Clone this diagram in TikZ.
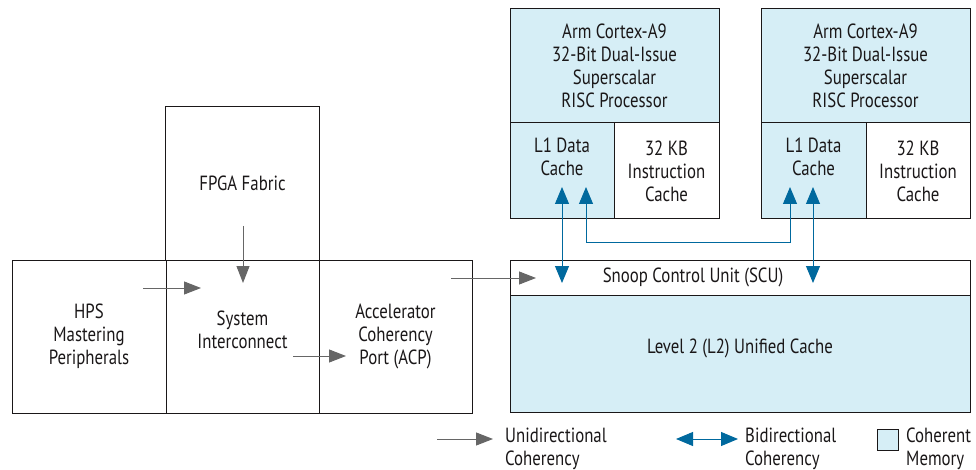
\documentclass[tikz,border=0pt]{standalone}
\usepackage{fontspec}
\setmainfont{PT Sans}[FakeStretch=0.82]
\usetikzlibrary{arrows.meta}
\definecolor{cohblue}{HTML}{D6EEF6}
\definecolor{arrblue}{HTML}{00699E}
\definecolor{arrgray}{HTML}{666666}
\definecolor{txt}{HTML}{1A1718}
\begin{document}
\begin{tikzpicture}[x=1pt,y=-1pt,
  box/.style={draw=txt, line width=1pt, inner sep=0pt, outer sep=0pt, align=center, text=txt, font=\fontsize{20.5}{23}\selectfont},
  lbl/.style={align=center, inner sep=0pt, text=txt, font=\fontsize{20.5}{23}\selectfont},
  uni/.style={draw=arrgray, line width=1pt, -{Triangle[length=17pt,width=13pt]}},
  bi/.style={draw=arrblue, line width=1pt, {Triangle[length=17pt,width=14pt]}-{Triangle[length=17pt,width=14pt]}}
]
\useasboundingbox (0,0) rectangle (976,470);
% left blocks
\node[box, minimum width=154pt, minimum height=153pt] (fpga) at (242.5,183.5) {FPGA Fabric};
\node[box, minimum width=154pt, minimum height=153pt] (hps) at (89,336.5) {HPS\\Mastering\\Peripherals};
\node[box, minimum width=153pt, minimum height=153pt] (si) at (242.5,336.5) {};
\node[lbl] (sitext) at (242.5,330) {System\\Interconnect};
\node[box, minimum width=153pt, minimum height=153pt] (acp) at (395.5,336.5) {Accelerator\\Coherency\\Port (ACP)};
% SCU and L2
\node[box, fill=white, minimum width=460pt, minimum height=35pt] (scu) at (740,277.5) {};
\node[lbl] (scutext) at (693,277) {Snoop Control Unit (SCU)};
\node[box, fill=cohblue, minimum width=460pt, minimum height=117pt] (l2) at (740,353.5) {};
\node[lbl] (l2text) at (740,348) {Level 2 (L2) Unified Cache};
% CPU 1
\node[box, fill=cohblue, minimum width=209pt, minimum height=114pt] (cpua) at (614.5,66) {Arm Cortex-A9\\32-Bit Dual-Issue\\Superscalar\\RISC Processor};
\node[box, fill=cohblue, minimum width=104pt, minimum height=96pt] (l1a) at (562,171) {};
\node[lbl] (l1atext) at (562,157) {L1 Data\\Cache};
\node[box, fill=white, minimum width=105pt, minimum height=96pt] (ica) at (666.5,171) {32 KB\\Instruction\\Cache};
% CPU 2
\node[box, fill=cohblue, minimum width=209pt, minimum height=114pt] (cpub) at (865.5,66) {Arm Cortex-A9\\32-Bit Dual-Issue\\Superscalar\\RISC Processor};
\node[box, fill=cohblue, minimum width=105pt, minimum height=96pt] (l1b) at (813.5,171) {};
\node[lbl] (l1btext) at (813.5,157) {L1 Data\\Cache};
\node[box, fill=white, minimum width=104pt, minimum height=96pt] (icb) at (918,171) {32 KB\\Instruction\\Cache};
% unidirectional arrows
\coordinate (h1) at (143,288); \coordinate (h2) at (201,288);
\coordinate (f1) at (243,226); \coordinate (f2) at (243,283);
\coordinate (s1) at (293,356); \coordinate (s2) at (346,356);
\coordinate (c1) at (451,278); \coordinate (c2) at (536,278);
\draw[uni] (h1) -- (h2);
\draw[uni] (f1) -- (f2);
\draw[uni] (s1) -- (s2);
\draw[uni] (c1) -- (c2);
% bidirectional arrows
\coordinate (ba1) at (562,187); \coordinate (ba2) at (562,283);
\coordinate (bb1) at (813,187); \coordinate (bb2) at (813,283);
\coordinate (bc1) at (586,187); \coordinate (bc2) at (790,187);
\draw[bi] (ba1) -- (ba2);
\draw[bi] (bb1) -- (bb2);
\draw[bi] (bc1) -- (586,242) -- (790,242) -- (bc2);
% legend
\coordinate (lg1) at (437,439); \coordinate (lg2) at (493,439);
\draw[uni] (lg1) -- (lg2);
\node[lbl, align=left, anchor=base west] (lgt1) at (505,465) {Unidirectional\\Coherency};
\coordinate (lb1) at (676,439); \coordinate (lb2) at (738,439);
\draw[bi] (lb1) -- (lb2);
\node[lbl, align=left, anchor=base west] (lgt2) at (745,465) {Bidirectional\\Coherency};
\node[box, fill=cohblue, minimum width=21pt, minimum height=21pt] (lgsq) at (887.5,439.5) {};
\node[lbl, align=left, anchor=base west] (lgt3) at (906,465) {Coherent\\Memory};
\end{tikzpicture}
\end{document}
